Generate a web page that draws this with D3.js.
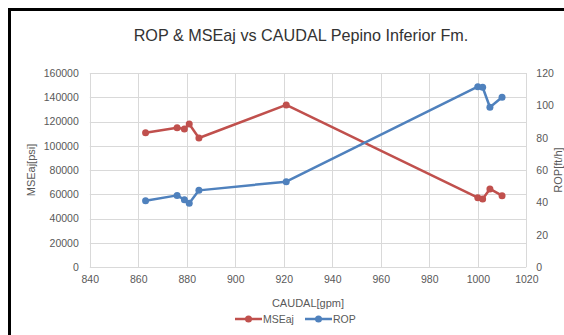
<!DOCTYPE html>
<html>
<head>
<meta charset="utf-8">
<script src="https://cdn.jsdelivr.net/npm/d3@7"></script>
<style>
  html, body { margin: 0; padding: 0; background: #fff; overflow: hidden; }
  text { font-family: "Liberation Sans", Arial, sans-serif; }
</style>
</head>
<body>
<svg id="chart" width="564" height="335"></svg>
<script>
// Flow rate (gpm) for each sample
const caudal = [863, 876, 879, 881, 885, 921, 1000, 1002, 1005, 1010];
// Adjusted mechanical specific energy (psi)
const mseaj = [110800, 114900, 113900, 118000, 106400, 133700, 57200, 56100, 64400, 58800];
// Rate of penetration (ft/h)
const rop = [41, 44.3, 41.6, 39.4, 47.4, 52.8, 111.5, 111.2, 98.8, 105];

const xTicks = [840, 860, 880, 900, 920, 940, 960, 980, 1000, 1020];
const yLeftTicks = [0, 20000, 40000, 60000, 80000, 100000, 120000, 140000, 160000];
const yRightTicks = [0, 20, 40, 60, 80, 100, 120];

const seriesNames = ["MSEaj", "ROP"];
const colors = { MSEaj: "#C0504D", ROP: "#4F81BD" };

const svg = d3.select("#chart");
const W = 564, H = 335;
const plot = { left: 89.8, right: 526.3, top: 73, bottom: 267 };

// outer chart frame (only the top and left edges fall inside the window)
svg.append("rect")
  .attr("x", 9.5).attr("y", 9.5)
  .attr("width", W + 20).attr("height", H + 20)
  .attr("fill", "#fff").attr("stroke", "#000").attr("stroke-width", 3);

const x = d3.scaleLinear().domain([840, 1020]).range([plot.left, plot.right]);
const yL = d3.scaleLinear().domain([0, 160000]).range([plot.bottom, plot.top]);
const yR = d3.scaleLinear().domain([0, 120]).range([plot.bottom, plot.top]);

// gridlines
const grid = svg.append("g").attr("stroke", "#d9d9d9").attr("stroke-width", 1);
grid.selectAll("line.h").data(yLeftTicks).join("line")
  .attr("x1", plot.left).attr("x2", plot.right)
  .attr("y1", d => Math.round(yL(d)) + 0.5).attr("y2", d => Math.round(yL(d)) + 0.5);
grid.selectAll("line.v").data(xTicks).join("line")
  .attr("y1", plot.top).attr("y2", plot.bottom)
  .attr("x1", d => Math.round(x(d)) + 0.5).attr("x2", d => Math.round(x(d)) + 0.5);

// axes (labels only, Excel style)
const tickColor = "#595959";
const fs = "10.5px";
const axB = svg.append("g").attr("transform", `translate(0,${plot.bottom})`)
  .call(d3.axisBottom(x).tickValues(xTicks).tickSize(0).tickPadding(9).tickFormat(d3.format("d")));
const axL = svg.append("g").attr("transform", `translate(${plot.left},0)`)
  .call(d3.axisLeft(yL).tickValues(yLeftTicks).tickSize(0).tickPadding(11).tickFormat(d3.format("d")));
const axR = svg.append("g").attr("transform", `translate(${plot.right},0)`)
  .call(d3.axisRight(yR).tickValues(yRightTicks).tickSize(0).tickPadding(10).tickFormat(d3.format("d")));
[axB, axL, axR].forEach(a => {
  a.select(".domain").remove();
  a.selectAll("text").attr("fill", tickColor).style("font-size", fs)
    .style("font-family", "'Liberation Sans', Arial, sans-serif");
});

// series
const seriesData = {
  MSEaj: caudal.map((c, i) => ({ x: c, y: yL(mseaj[i]) })),
  ROP: caudal.map((c, i) => ({ x: c, y: yR(rop[i]) }))
};
const line = d3.line().x(d => x(d.x)).y(d => d.y);
seriesNames.forEach(name => {
  const g = svg.append("g");
  g.append("path").datum(seriesData[name])
    .attr("d", line).attr("fill", "none")
    .attr("stroke", colors[name]).attr("stroke-width", 2.5)
    .attr("stroke-linejoin", "round").attr("stroke-linecap", "round");
  g.selectAll("circle").data(seriesData[name]).join("circle")
    .attr("cx", d => x(d.x)).attr("cy", d => d.y).attr("r", 3.5)
    .attr("fill", colors[name]);
});

// titles
svg.append("text").attr("x", 301).attr("y", 41).attr("text-anchor", "middle")
  .attr("fill", "#333").style("font-size", "16.2px")
  .text("ROP & MSEaj vs CAUDAL Pepino Inferior Fm.");
svg.append("text").attr("x", 308).attr("y", 307).attr("text-anchor", "middle")
  .attr("fill", tickColor).style("font-size", "11px").text("CAUDAL[gpm]");
svg.append("text").attr("transform", "translate(35,170) rotate(-90)")
  .attr("text-anchor", "middle").attr("fill", tickColor).style("font-size", "11px")
  .text("MSEaj[psi]");
svg.append("text").attr("transform", "translate(562,170) rotate(-90)")
  .attr("text-anchor", "middle").attr("fill", tickColor).style("font-size", "11px")
  .text("ROP[ft/h]");

// legend
const legend = svg.append("g");
const legendX = { MSEaj: 235, ROP: 305 };
seriesNames.forEach(name => {
  const lx = legendX[name], ly = 319;
  legend.append("line").attr("x1", lx).attr("x2", lx + 27).attr("y1", ly).attr("y2", ly)
    .attr("stroke", colors[name]).attr("stroke-width", 2.5);
  legend.append("circle").attr("cx", lx + 13.5).attr("cy", ly).attr("r", 3.5).attr("fill", colors[name]);
  legend.append("text").attr("x", lx + 28).attr("y", ly + 4)
    .attr("fill", tickColor).style("font-size", "10.5px").text(name);
});
</script>
</body>
</html>
